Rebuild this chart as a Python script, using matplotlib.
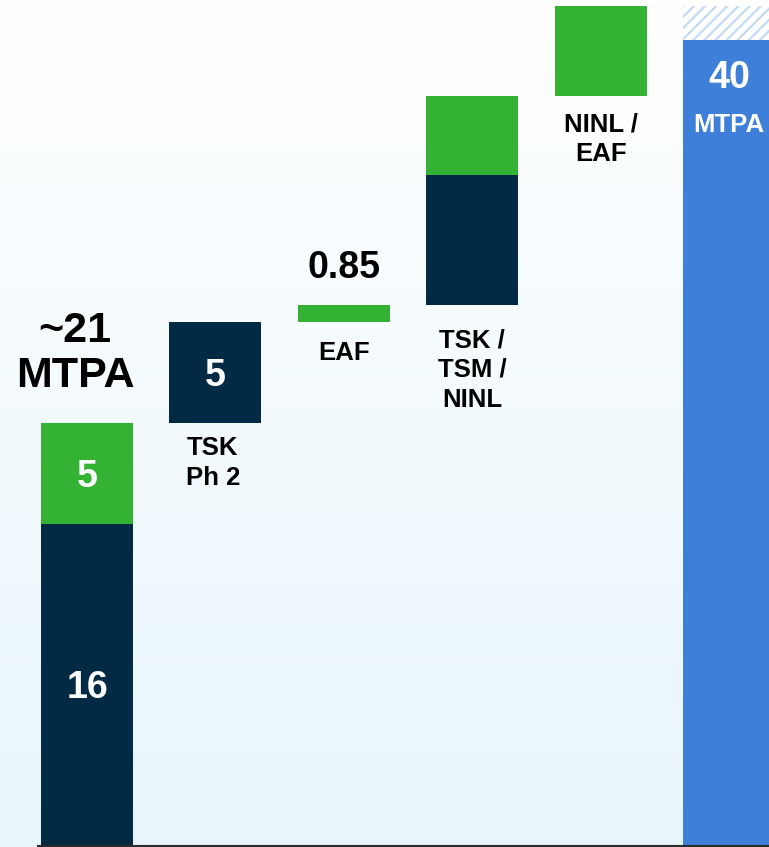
import numpy as np
import matplotlib.pyplot as plt

# waterfall steps (MTPA)
steps = ["start", "TSK\nPh 2", "EAF", "TSK /\nTSM /\nNINL", "NINL /\nEAF", "target"]
navy_vals = [16, 5, 0, 6.45, 0, 0]
green_vals = [5, 0, 0.85, 3.92, 4.47, 0]
target_val = 40
target_extra = 1.69

NAVY = "#032a45"
GREEN = "#34b233"
BLUE = "#3d7fd9"
HATCH = "#c3dbf4"

plt.rcParams['font.family'] = ['Liberation Sans', 'DejaVu Sans']
plt.rcParams['hatch.linewidth'] = 1.6

fig = plt.figure(figsize=(7.69, 8.47), dpi=100)
ax = fig.add_axes([0, 0, 1, 1])
ax.set_axis_off()

xmin, xmax = -0.678, 5.311
ymin, ymax = -0.05, 41.98
ax.set_xlim(xmin, xmax)
ax.set_ylim(ymin, ymax)

# background gradient
grad = np.linspace(0, 1, 256)[:, None]
top = np.array([1.0, 1.0, 1.0])
bot = np.array([0xe8, 0xf6, 0xfc]) / 255
img = top * (1 - grad[..., None]) + bot * grad[..., None]
ax.imshow(img, extent=[xmin, xmax, ymin, ymax], aspect='auto', zorder=0)

w = 0.716
x = np.arange(len(steps))

# floating bases
bases = []
level = 0
for i in range(5):
    b = 0 if i == 0 else level
    bases.append(b)
    level = b + navy_vals[i] + green_vals[i]

for i in range(5):
    if navy_vals[i]:
        ax.bar(x[i], navy_vals[i], w, bottom=bases[i], color=NAVY, zorder=2)
    if green_vals[i]:
        ax.bar(x[i], green_vals[i], w, bottom=bases[i] + navy_vals[i], color=GREEN, zorder=2)

ax.bar(x[5], target_val, w, bottom=0, color=BLUE, zorder=2)
ax.bar(x[5], target_extra, w, bottom=target_val, color="white", edgecolor=HATCH,
       hatch="///", linewidth=0, zorder=2)

ax.axhline(0, xmin=38 / 769, xmax=1, color="#2b2b2b", lw=1.5, zorder=3)

bold = dict(fontweight='bold', ha='center')
NUM = 27
CAT = 18.5
mid = -0.36 * NUM  # baseline shift so digits sit centred


def inside(xx, yy, s):
    ax.annotate(s, xy=(xx, yy), xytext=(0, mid), textcoords='offset points',
                va='baseline', fontsize=NUM, color="white", zorder=4, **bold)


def below(xx, yy, s, off):
    ax.annotate(s, xy=(xx, yy), xytext=(0, off), textcoords='offset points',
                va='top', fontsize=CAT, linespacing=1.3, **bold)


# first bar
inside(x[0], navy_vals[0] / 2, "16")
inside(x[0], navy_vals[0] + green_vals[0] / 2, "5")
ax.annotate("~21\nMTPA", xy=(x[0] - 0.094, navy_vals[0] + green_vals[0]), xytext=(0, 19),
            textcoords='offset points', va='bottom', fontsize=31, linespacing=1.17, color="black", **bold)

# TSK Ph 2
inside(x[1], bases[1] + navy_vals[1] / 2, "5")
below(x[1] - 0.02, bases[1], steps[1], -9.6)

# EAF
ax.annotate("0.85", xy=(x[2], bases[2] + green_vals[2]), xytext=(0, 19.6), textcoords='offset points',
            va='baseline', fontsize=NUM, **bold)
below(x[2], bases[2], steps[2], -13.3)

# TSK / TSM / NINL
below(x[3], bases[3], steps[3], -16.8)

# NINL / EAF
below(x[4], bases[4], steps[4], -12)

# target
ax.annotate("40", xy=(x[5], target_val), xytext=(0, -34.6), textcoords='offset points',
            va='baseline', fontsize=NUM, color="white", zorder=4, **bold)
ax.annotate("MTPA", xy=(x[5], target_val), xytext=(0, -66), textcoords='offset points',
            va='baseline', fontsize=CAT, color="white", zorder=4, **bold)

fig.savefig("out.png", dpi=100)
